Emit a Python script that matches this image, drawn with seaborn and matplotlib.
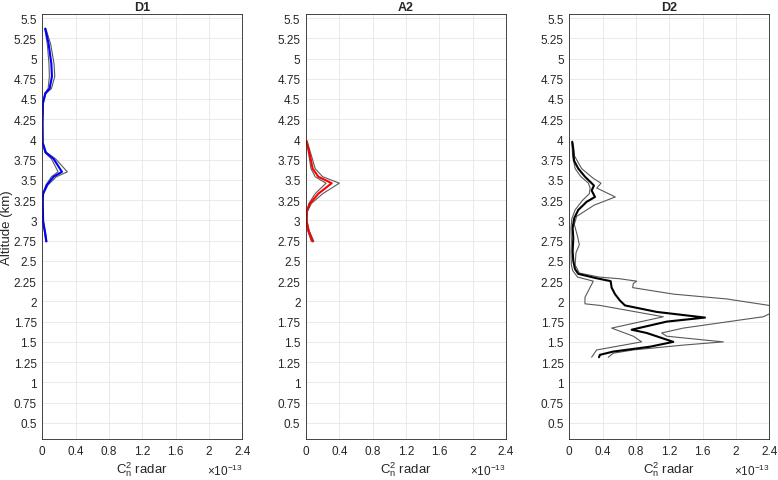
import numpy as np
import seaborn as sns
from matplotlib import pyplot as plt

# altitude (km) and Cn2 radar values (x 1e-13)
d1_alt = [5.37, 5.18, 4.94, 4.78, 4.63, 4.57, 4.45, 4.21, 3.96, 3.84, 3.76, 3.60, 3.54, 3.44, 3.33, 3.23, 2.99, 2.83, 2.74]
d1_mid = [0.036, 0.076, 0.108, 0.116, 0.088, 0.036, 0.008, 0.003, 0.005, 0.04, 0.136, 0.236, 0.136, 0.056, 0.01, 0.005, 0.01, 0.036, 0.048]
d1_low = [0.03, 0.06, 0.08, 0.085, 0.07, 0.03, 0.006, 0.002, 0.004, 0.03, 0.11, 0.19, 0.11, 0.045, 0.008, 0.004, 0.008, 0.03, 0.042]
d1_high = [0.042, 0.1, 0.14, 0.15, 0.11, 0.045, 0.012, 0.005, 0.007, 0.05, 0.16, 0.30, 0.17, 0.07, 0.014, 0.007, 0.013, 0.042, 0.055]

a2_alt = [3.98, 3.80, 3.64, 3.54, 3.46, 3.33, 3.21, 3.11, 2.99, 2.87, 2.74]
a2_mid = [0.008, 0.048, 0.08, 0.148, 0.308, 0.148, 0.048, 0.01, 0.008, 0.03, 0.08]
a2_low = [0.005, 0.035, 0.06, 0.11, 0.24, 0.11, 0.035, 0.006, 0.005, 0.022, 0.065]
a2_high = [0.012, 0.065, 0.11, 0.2, 0.40, 0.2, 0.065, 0.016, 0.012, 0.04, 0.095]

d2_alt_mid = [3.97, 3.88, 3.74, 3.64, 3.54, 3.46, 3.43, 3.37, 3.29, 3.23, 3.13, 3.03, 2.91, 2.78, 2.62, 2.50, 2.40, 2.34,
              2.29, 2.25, 2.17, 2.09, 2.01, 1.95, 1.87, 1.80, 1.75, 1.65, 1.61, 1.50, 1.44, 1.38, 1.34, 1.31]
d2_mid = [0.036, 0.048, 0.056, 0.108, 0.188, 0.268, 0.296, 0.268, 0.308, 0.208, 0.108, 0.06, 0.04, 0.048, 0.04, 0.048, 0.068, 0.108,
          0.308, 0.496, 0.508, 0.548, 0.608, 0.668, 1.048, 1.628, 1.168, 0.748, 0.928, 1.248, 0.968, 0.528, 0.368, 0.356]

d2_alt_high = [3.98, 3.80, 3.64, 3.52, 3.46, 3.40, 3.29, 3.19, 3.05, 2.95, 2.80, 2.70, 2.60, 2.45, 2.35, 2.30, 2.28, 2.25, 2.22,
               2.17, 2.09, 2.03, 1.95, 1.91, 1.87, 1.81, 1.77, 1.67, 1.61, 1.57, 1.52, 1.50, 1.46, 1.40, 1.36, 1.31]
d2_high = [0.036, 0.06, 0.148, 0.288, 0.38, 0.33, 0.552, 0.30, 0.088, 0.06, 0.10, 0.12, 0.08, 0.07, 0.12, 0.36, 0.6, 0.808, 0.768,
           0.76, 1.248, 1.888, 2.4, 2.55, 2.45, 2.328, 2.05, 1.368, 1.108, 1.168, 1.648, 1.848, 1.368, 0.768, 0.528, 0.468]

d2_alt_low = [3.97, 3.80, 3.64, 3.54, 3.46, 3.40, 3.33, 3.25, 3.13, 3.02, 2.90, 2.75, 2.60, 2.45, 2.38, 2.30, 2.25, 2.13, 2.05,
              1.97, 1.95, 1.81, 1.67, 1.57, 1.50, 1.40, 1.31]
d2_low = [0.03, 0.04, 0.07, 0.14, 0.23, 0.25, 0.24, 0.16, 0.07, 0.03, 0.02, 0.025, 0.02, 0.025, 0.04, 0.10, 0.288, 0.228, 0.188,
          0.188, 0.368, 1.128, 0.508, 0.768, 0.868, 0.328, 0.268]

x_ticks = [0, 0.4, 0.8, 1.2, 1.6, 2, 2.4]
y_ticks = np.arange(0.5, 5.51, 0.25)

sns.set_style("whitegrid")
plt.rcParams['font.family'] = ['Liberation Sans', 'DejaVu Sans']
plt.rcParams['mathtext.fontset'] = 'custom'
plt.rcParams['mathtext.rm'] = 'Liberation Sans'
plt.rcParams['mathtext.it'] = 'Liberation Sans'

fig = plt.figure(figsize=(7.78, 4.81), dpi=100)
lefts = [42.3 / 778, 306 / 778, 569.3 / 778]
bottom = 1 - 440 / 481
height = (440 - 15) / 481
width = 200 / 778

panels = [
    ("D1", "blue", [(d1_alt, d1_low), (d1_alt, d1_high)], (d1_alt, d1_mid)),
    ("A2", "red", [(a2_alt, a2_low), (a2_alt, a2_high)], (a2_alt, a2_mid)),
    ("D2", "black", [(d2_alt_low, d2_low), (d2_alt_high, d2_high)], (d2_alt_mid, d2_mid)),
]

for i, (title, col, bounds, mid) in enumerate(panels):
    ax = fig.add_axes([lefts[i], bottom, width, height])
    for alt, v in bounds:
        sns.lineplot(x=v, y=alt, sort=False, estimator=None, color='0.35', linewidth=0.8, ax=ax)
    sns.lineplot(x=mid[1], y=mid[0], sort=False, estimator=None, color=col, linewidth=1.5, ax=ax)
    ax.set_xlim(0, 2.4)
    ax.set_ylim(0.3, 5.55)
    ax.set_xticks(x_ticks)
    ax.set_xticklabels(['%g' % t for t in x_ticks])
    ax.set_yticks(y_ticks)
    ax.set_yticklabels(['%g' % t for t in y_ticks])
    ax.grid(True, color='0.9', linewidth=0.6)
    for s in ax.spines.values():
        s.set_color('0.15')
        s.set_linewidth(0.6)
    ax.tick_params(direction='in', length=3, width=0.5, colors='0.15', labelsize=8.5, pad=4)
    ax.set_title(title, fontsize=9, fontweight='bold', pad=3)
    ax.set_xlabel(r'C$_\mathregular{n}^\mathregular{2}$ radar', fontsize=9.5, color='0.15', labelpad=2)
    ax.set_ylabel('')
    ax.text(1.0, -0.055, r'$\times$10$^\mathregular{-13}$', transform=ax.transAxes, ha='right', va='top',
            fontsize=8.5, color='0.15')
    if i == 0:
        ax.set_ylabel('Altitude (km)', fontsize=9.5, color='0.15')
        ax.yaxis.set_label_coords(-0.148, 0.5)

fig.savefig('out.png', dpi=100)
